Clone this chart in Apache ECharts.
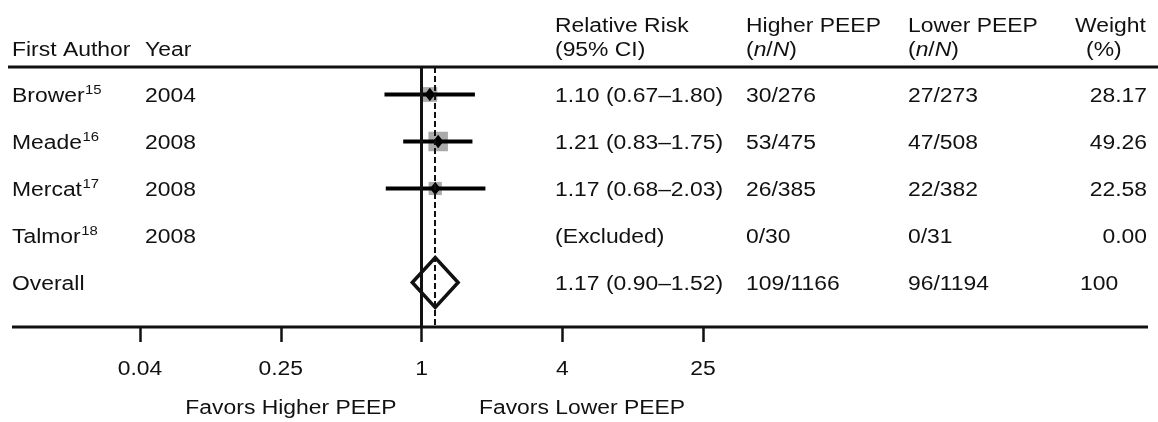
<!DOCTYPE html>
<html><head><meta charset="utf-8">
<script src="https://cdn.jsdelivr.net/npm/echarts@6/dist/echarts.min.js"></script>
<style>html,body{margin:0;padding:0;background:#fff}#c{width:1158px;height:422px}</style>
</head><body><div id="c"></div>
<script>
// ---------- data ----------
const authors = ['Brower', 'Meade', 'Mercat', 'Talmor', 'Overall'];
const refs = ['15', '16', '17', '18', ''];
const years = ['2004', '2008', '2008', '2008', ''];
const rr = [1.10, 1.21, 1.17, null, 1.17];
const ciLow = [0.67, 0.83, 0.68, null, 0.90];
const ciHigh = [1.80, 1.75, 2.03, null, 1.52];
const higherEvents = [30, 53, 26, 0, 109];
const higherTotal = [276, 475, 385, 30, 1166];
const lowerEvents = [27, 47, 22, 0, 96];
const lowerTotal = [273, 508, 382, 31, 1194];
const weights = [28.17, 49.26, 22.58, 0.00, 100];
const overallIndex = 4;
const tickValues = [0.04, 0.2, 1, 5, 25];
const tickLabels = ['0.04', '0.25', '1', '4', '25'];
const favorLabels = ['Favors Higher PEEP', 'Favors Lower PEEP'];

// ---------- style / layout ----------
const FONT = "'Liberation Sans', Arial, sans-serif";
const FS = 20;
const SX = 1.145;
const INK = '#111';
const TY = 2; // text baseline nudge
const col = { author: 12, year: 145, rr: 555, higher: 746, lower: 908, weightR: 1147, weightOverallL: 1080 };
const yMin = -0.585, yMax = 4.947;

const rich = {
  b: { fontFamily: FONT, fontSize: FS, lineHeight: 22, color: INK },
  i: { fontFamily: FONT, fontSize: FS, lineHeight: 22, fontStyle: 'italic', color: INK }
};

const measureCtx = document.createElement('canvas').getContext('2d');
function textWidth(t, size) { measureCtx.font = size + 'px ' + FONT; return measureCtx.measureText(t).width; }

function rrText(i) {
  if (rr[i] == null) return '(Excluded)';
  return rr[i].toFixed(2) + ' (' + ciLow[i].toFixed(2) + '\u2013' + ciHigh[i].toFixed(2) + ')';
}
function weightText(i) { return i === overallIndex ? String(weights[i]) : weights[i].toFixed(2); }

const forestData = [];
authors.forEach((a, i) => {
  if (rr[i] != null) forestData.push([rr[i], ciLow[i], ciHigh[i], i, weights[i], i === overallIndex ? 1 : 0]);
});
const tableData = authors.map((a, i) => [0, i]);
const tickData = tickValues.map((v, k) => [v, yMax, k]);

function txt(x, y, text, align, useRich, size) {
  const el = {
    type: 'text', x: x, y: y + TY, scaleX: SX,
    style: { text: text, x: 0, y: 0, align: align, verticalAlign: 'middle', fill: INK, fontFamily: FONT, fontSize: size || FS }
  };
  if (useRich) el.style.rich = rich;
  return el;
}

const chart = echarts.init(document.getElementById('c'), null, { renderer: 'canvas' });
const option = {
  backgroundColor: '#fff',
  animation: false,
  grid: [
    { left: 140, width: 563, top: 67, height: 260 },
    { left: 0, right: 0, top: 67, height: 260 }
  ],
  xAxis: [
    {
      type: 'log', logBase: 5, min: tickValues[0], max: tickValues[tickValues.length - 1], gridIndex: 0,
      position: 'bottom',
      axisLine: { show: false, onZero: false },
      axisTick: { show: true, length: 15, lineStyle: { color: INK, width: 2.5 } },
      splitLine: { show: false },
      axisLabel: { show: false }
    },
    { type: 'value', min: 0, max: 1158, gridIndex: 1, show: false }
  ],
  yAxis: [
    { type: 'value', inverse: true, min: yMin, max: yMax, gridIndex: 0, show: false },
    { type: 'value', inverse: true, min: yMin, max: yMax, gridIndex: 1, show: false }
  ],
  graphic: [
    { type: 'line', shape: { x1: 8, y1: 67, x2: 1158, y2: 67 }, style: { stroke: INK, lineWidth: 3 } },
    { type: 'line', shape: { x1: 12, y1: 327, x2: 1148, y2: 327 }, style: { stroke: INK, lineWidth: 3 } },
    txt(col.author, 48, 'First Author', 'left'),
    txt(col.year, 48, 'Year', 'left'),
    txt(col.rr, 24, 'Relative Risk', 'left'),
    txt(col.rr, 48, '(95% CI)', 'left'),
    txt(col.higher, 24, 'Higher PEEP', 'left'),
    txt(col.higher, 48, '{b|(}{i|n}{b|/}{i|N}{b|)}', 'left', true),
    txt(col.lower, 24, 'Lower PEEP', 'left'),
    txt(col.lower, 48, '{b|(}{i|n}{b|/}{i|N}{b|)}', 'left', true),
    txt(1075, 24, 'Weight', 'left'),
    txt(1086, 48, '(%)', 'left'),
    txt(291, 406, favorLabels[0], 'center'),
    txt(582, 406, favorLabels[1], 'center')
  ],
  series: [
    {
      type: 'custom', xAxisIndex: 0, yAxisIndex: 0, data: forestData, clip: false,
      renderItem: function (params, api) {
        const est = api.value(0), lo = api.value(1), hi = api.value(2), row = api.value(3), w = api.value(4), ov = api.value(5);
        const pE = api.coord([est, row]), pL = api.coord([lo, row]), pH = api.coord([hi, row]);
        if (ov) {
          return {
            type: 'polygon',
            shape: { points: [[pL[0], pE[1]], [pE[0], pE[1] - 25], [pH[0], pE[1]], [pE[0], pE[1] + 25]] },
            style: { fill: 'rgba(0,0,0,0)', stroke: INK, lineWidth: 3.5, lineJoin: 'miter' }
          };
        }
        const s = 2.78 * Math.sqrt(w);
        return {
          type: 'group', children: [
            { type: 'rect', shape: { x: pE[0] - s / 2, y: pE[1] - s / 2, width: s, height: s }, style: { fill: '#aaaaaa' } },
            { type: 'line', shape: { x1: pL[0], y1: pL[1], x2: pH[0], y2: pH[1] }, style: { stroke: '#000', lineWidth: 4, lineCap: 'square' } },
            { type: 'polygon', shape: { points: [[pE[0] - 5.2, pE[1]], [pE[0], pE[1] - 6.8], [pE[0] + 5.2, pE[1]], [pE[0], pE[1] + 6.8]] }, style: { fill: '#000' } }
          ]
        };
      },
      markLine: {
        silent: true, symbol: 'none', label: { show: false },
        data: [
          { xAxis: 1, lineStyle: { color: INK, width: 3, type: 'solid' } },
          { xAxis: rr[overallIndex], lineStyle: { color: INK, width: 2, type: [6, 3] } }
        ]
      },
      z: 3
    },
    {
      type: 'custom', xAxisIndex: 0, yAxisIndex: 0, data: tickData, clip: false,
      renderItem: function (params, api) {
        const p = api.coord([api.value(0), api.value(1)]);
        return txt(p[0], p[1] + 40, tickLabels[api.value(2)], 'center');
      },
      z: 2
    },
    {
      type: 'custom', xAxisIndex: 1, yAxisIndex: 1, data: tableData, clip: false,
      renderItem: function (params, api) {
        const i = params.dataIndex;
        const y = api.coord([0, api.value(1)])[1];
        const kids = [];
        kids.push(txt(col.author, y, authors[i], 'left'));
        if (refs[i]) {
          const w = textWidth(authors[i], FS) * SX;
          kids.push(txt(col.author + w + 0.5, y - 6, refs[i], 'left', false, 13));
        }
        if (years[i]) kids.push(txt(col.year, y, years[i], 'left'));
        kids.push(txt(col.rr, y, rrText(i), 'left'));
        kids.push(txt(col.higher, y, higherEvents[i] + '/' + higherTotal[i], 'left'));
        kids.push(txt(col.lower, y, lowerEvents[i] + '/' + lowerTotal[i], 'left'));
        if (i === overallIndex) kids.push(txt(col.weightOverallL, y, weightText(i), 'left'));
        else kids.push(txt(col.weightR, y, weightText(i), 'right'));
        return { type: 'group', children: kids };
      },
      z: 2
    }
  ]
};
chart.setOption(option);
</script>
</body></html>
